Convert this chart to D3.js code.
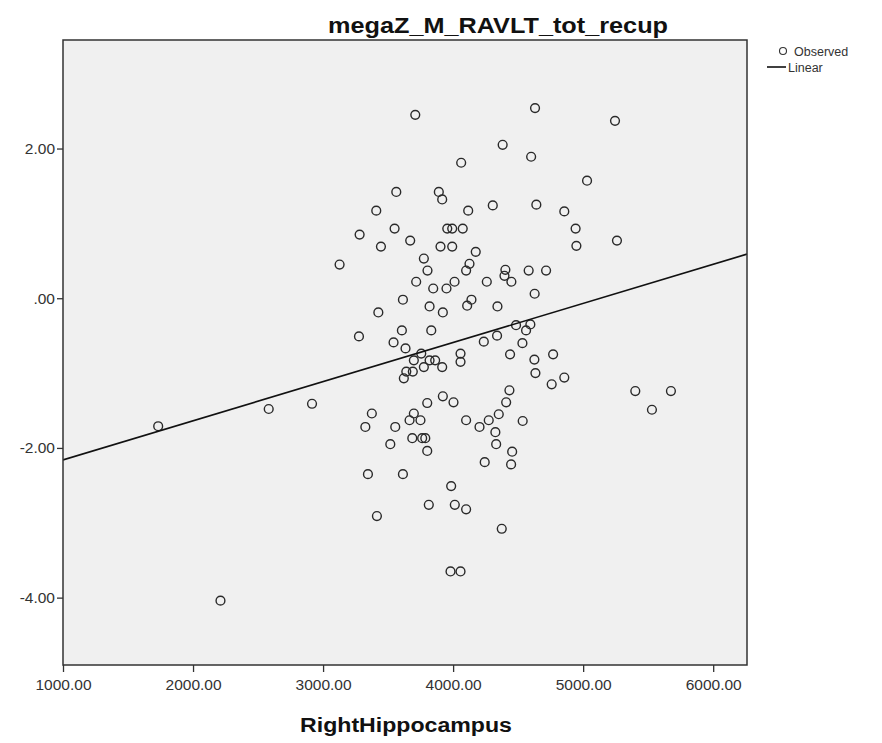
<!DOCTYPE html>
<html>
<head>
<meta charset="utf-8">
<script src="https://cdn.jsdelivr.net/npm/d3@7"></script>
<style>
  body { margin: 0; background: #ffffff; }
  svg { display: block; }
  text { font-family: "Liberation Sans", Arial, sans-serif; }
</style>
</head>
<body>
<svg id="chart" width="882" height="743"></svg>
<script>
// ---- data ----
const chartTitle = "megaZ_M_RAVLT_tot_recup";
const xLabel = "RightHippocampus";
const xDomain = [1000, 6260];
const yDomain = [-4.90, 3.45];
const xTicks = [1000, 2000, 3000, 4000, 5000, 6000];
const xTickLabels = ["1000.00", "2000.00", "3000.00", "4000.00", "5000.00", "6000.00"];
const yTicks = [2, 0, -2, -4];
const yTickLabels = ["2.00", ".00", "-2.00", "-4.00"];

// observed points: RightHippocampus (x) and megaZ_M_RAVLT_tot_recup (y)
const hippocampus = [
  3709, 4630, 4381, 4600, 4062, 3563, 3890, 3916, 3409, 4116,
  4305, 4640, 3281, 3550, 3955, 3993, 4074, 3445, 3670, 3903,
  3993, 3127, 3775, 3803, 4174, 4126, 4100, 3716, 3847, 3949,
  4011, 4259, 4402, 4395, 4448, 4581, 4715, 4627, 3614, 3819,
  3921, 3425, 4108, 4141, 4341,
  3276, 3606, 3832, 3542, 3634, 3755, 3698, 3819, 3862, 3775,
  3916, 3640, 3690, 3621, 4057, 4057, 4236, 4338, 4484, 4561,
  4594, 4533, 4438, 4625, 4633, 3375, 3325, 3555, 3698, 3665,
  3749, 3801, 3921, 4003, 4100, 4203, 4274, 4351, 4408, 4433,
  4325, 4331, 4535, 3517, 3686, 3762, 3786, 3801, 4454, 4446,
  4243, 3345, 3614, 3985, 3813, 4013, 4100, 3414, 4374, 2915,
  5245, 5030, 4855, 4942, 4948, 5260, 4769, 4758, 4855, 5401,
  5675, 5529,
  1732, 2582, 2211,
  3980, 4057
];
const recallZ = [
  2.45, 2.54, 2.05, 1.89, 1.81, 1.42, 1.42, 1.32, 1.17, 1.17,
  1.24, 1.25, 0.85, 0.93, 0.93, 0.93, 0.93, 0.69, 0.77, 0.69,
  0.69, 0.45, 0.53, 0.37, 0.62, 0.46, 0.37, 0.22, 0.13, 0.13,
  0.22, 0.22, 0.38, 0.30, 0.22, 0.37, 0.37, 0.06, -0.02, -0.11,
  -0.19, -0.19, -0.10, -0.02, -0.11,
  -0.51, -0.43, -0.43, -0.59, -0.67, -0.74, -0.83, -0.83, -0.83, -0.92,
  -0.92, -0.98, -0.98, -1.07, -0.74, -0.85, -0.58, -0.50, -0.36, -0.43,
  -0.35, -0.60, -0.75, -0.82, -1.00, -1.54, -1.72, -1.72, -1.54, -1.63,
  -1.63, -1.40, -1.31, -1.39, -1.63, -1.72, -1.63, -1.55, -1.39, -1.23,
  -1.79, -1.95, -1.64, -1.95, -1.87, -1.87, -1.87, -2.04, -2.05, -2.22,
  -2.19, -2.35, -2.35, -2.51, -2.76, -2.76, -2.82, -2.91, -3.08, -1.41,
  2.37, 1.57, 1.16, 0.93, 0.70, 0.77, -0.75, -1.15, -1.06, -1.24,
  -1.24, -1.49,
  -1.71, -1.48, -4.04,
  -3.65, -3.65
];

// linear fit line (value at the left and right edge)
const fitX = [1000, 6260];
const fitY = [-2.16, 0.59];

// ---- layout ----
const plot = { left: 63, right: 747, top: 40, bottom: 665 };

const svg = d3.select("#chart");
const x = d3.scaleLinear().domain(xDomain).range([plot.left, plot.right]);
const y = d3.scaleLinear().domain(yDomain).range([plot.bottom, plot.top]);

// plot background
svg.append("rect")
  .attr("x", plot.left).attr("y", plot.top)
  .attr("width", plot.right - plot.left).attr("height", plot.bottom - plot.top)
  .attr("fill", "#f0f0f0");

// clip for marks
svg.append("clipPath").attr("id", "clip")
  .append("rect")
  .attr("x", plot.left).attr("y", plot.top)
  .attr("width", plot.right - plot.left).attr("height", plot.bottom - plot.top);

const marks = svg.append("g").attr("clip-path", "url(#clip)");

// points
marks.selectAll("circle.obs")
  .data(hippocampus.map((d, i) => [d, recallZ[i]]))
  .join("circle")
  .attr("class", "obs")
  .attr("cx", d => x(d[0]))
  .attr("cy", d => y(d[1]))
  .attr("r", 4.4)
  .attr("fill", "none")
  .attr("stroke", "#2a2a2a")
  .attr("stroke-width", 1.4);

// fit line
marks.append("path")
  .datum(fitX.map((d, i) => [d, fitY[i]]))
  .attr("d", d3.line().x(d => x(d[0])).y(d => y(d[1])))
  .attr("fill", "none")
  .attr("stroke", "#111")
  .attr("stroke-width", 1.6);

// frame
svg.append("rect")
  .attr("x", plot.left).attr("y", plot.top)
  .attr("width", plot.right - plot.left).attr("height", plot.bottom - plot.top)
  .attr("fill", "none")
  .attr("stroke", "#333")
  .attr("stroke-width", 1.5);

// axes
const xAxis = d3.axisBottom(x).tickValues(xTicks)
  .tickFormat((d, i) => xTickLabels[i]).tickSize(7).tickPadding(7);
const gx = svg.append("g").attr("transform", `translate(0,${plot.bottom})`).call(xAxis);
gx.select(".domain").remove();
gx.selectAll(".tick line").attr("stroke", "#333").attr("stroke-width", 1.3);
gx.selectAll(".tick text").attr("fill", "#333").attr("font-size", 15.5);

const yAxis = d3.axisLeft(y).tickValues(yTicks)
  .tickFormat((d, i) => yTickLabels[i]).tickSize(6).tickPadding(2);
const gy = svg.append("g").attr("transform", `translate(${plot.left},0)`).call(yAxis);
gy.select(".domain").remove();
gy.selectAll(".tick line").attr("stroke", "#333").attr("stroke-width", 1.3);
gy.selectAll(".tick text").attr("fill", "#333").attr("font-size", 15.5);

// title
svg.append("text")
  .attr("x", 498).attr("y", 33)
  .attr("text-anchor", "middle")
  .attr("font-size", 22).attr("font-weight", "bold").attr("fill", "#111")
  .attr("textLength", 340).attr("lengthAdjust", "spacingAndGlyphs")
  .text(chartTitle);

// x label
svg.append("text")
  .attr("x", 406).attr("y", 732)
  .attr("text-anchor", "middle")
  .attr("font-size", 20).attr("font-weight", "bold").attr("fill", "#111")
  .attr("textLength", 212).attr("lengthAdjust", "spacingAndGlyphs")
  .text(xLabel);

// legend
const lg = svg.append("g");
lg.append("circle").attr("cx", 783).attr("cy", 51).attr("r", 3.5)
  .attr("fill", "none").attr("stroke", "#333").attr("stroke-width", 1.1);
lg.append("text").attr("x", 794).attr("y", 56).attr("font-size", 12.5).attr("fill", "#333").text("Observed");
lg.append("line").attr("x1", 767).attr("x2", 786).attr("y1", 67).attr("y2", 67)
  .attr("stroke", "#111").attr("stroke-width", 1.6);
lg.append("text").attr("x", 788).attr("y", 72).attr("font-size", 12.5).attr("fill", "#333").text("Linear");
</script>
</body>
</html>
